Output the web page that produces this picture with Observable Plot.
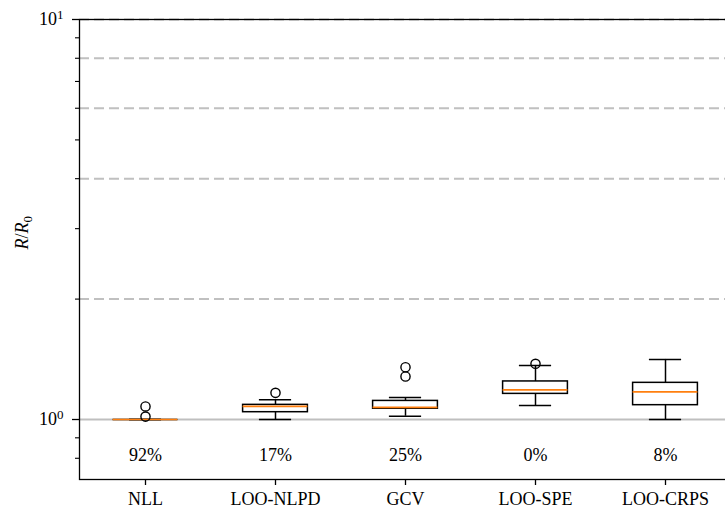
<!DOCTYPE html>
<html>
<head>
<meta charset="utf-8">
<script src="https://cdn.jsdelivr.net/npm/d3@7"></script>
<script src="https://cdn.jsdelivr.net/npm/@observablehq/plot@0.6"></script>
<style>
  html, body { margin: 0; padding: 0; background: white; overflow: hidden; }
</style>
</head>
<body>
<div id="chart"></div>
<script>
// ---- data ----
const categories = ["NLL", "LOO-NLPD", "GCV", "LOO-SPE", "LOO-CRPS"];
const whiskerLow  = [1.0,   1.0,   1.019, 1.084, 1.0];
const quartile1   = [1.0,   1.043, 1.064, 1.159, 1.086];
const medians     = [1.0,   1.079, 1.072, 1.186, 1.173];
const quartile3   = [1.0,   1.088, 1.113, 1.245, 1.235];
const whiskerHigh = [1.0,   1.120, 1.135, 1.365, 1.413];
const percentLabels = ["92%", "17%", "25%", "0%", "8%"];

const outlierCategory = ["NLL", "NLL", "LOO-NLPD", "GCV", "GCV", "LOO-SPE"];
const outlierValue    = [1.078, 1.017, 1.166,      1.351, 1.281, 1.378];

const majorTicks = [1, 10];
const minorTicks = [0.8, 0.9, 2, 3, 4, 5, 6, 7, 8, 9];
const dashedLevels = [2, 4, 6, 8, 10];
const referenceLevel = [1];

// ---- tables built from the arrays ----
const boxes = categories.map((c, i) => ({
  cat: c, lo: whiskerLow[i], q1: quartile1[i], med: medians[i],
  q3: quartile3[i], hi: whiskerHigh[i], pct: percentLabels[i]
}));
const outliers = outlierCategory.map((c, i) => ({cat: c, v: outlierValue[i]}));

const W = 725, H = 510;
const plotLeft = 79, plotTop = 19, plotBottom = 479, plotRight = 731;
const band = (plotRight - plotLeft) / categories.length;
const boxInset = band / 4;        // box width = half the band
const capInset = band * 3 / 8;    // caps = half the box width
const labelLevel = 0.815;

const chart = Plot.plot({
  width: W,
  height: H,
  marginLeft: plotLeft,
  marginRight: W - plotRight,
  marginTop: plotTop,
  marginBottom: H - plotBottom,
  style: {fontFamily: "'Liberation Serif', 'Times New Roman', serif", fontSize: "18px", color: "black", background: "white", overflow: "hidden"},
  x: {type: "band", domain: categories, range: [plotLeft, plotRight], padding: 0, align: 0.5, label: null},
  y: {type: "log", domain: [0.708, 10], range: [plotBottom, plotTop], label: null},
  marks: [
    Plot.ruleY(dashedLevels, {stroke: "#c0c0c0", strokeWidth: 2, strokeDasharray: "10,5"}),
    Plot.ruleY(referenceLevel, {stroke: "#bfbfbf", strokeWidth: 2}),
    Plot.ruleX(boxes, {x: "cat", y1: "lo", y2: "q1", stroke: "black", strokeWidth: 1.5}),
    Plot.ruleX(boxes, {x: "cat", y1: "q3", y2: "hi", stroke: "black", strokeWidth: 1.5}),
    Plot.tickY(boxes, {x: "cat", y: "lo", insetLeft: capInset, insetRight: capInset, stroke: "black", strokeWidth: 1.5}),
    Plot.tickY(boxes, {x: "cat", y: "hi", insetLeft: capInset, insetRight: capInset, stroke: "black", strokeWidth: 1.5}),
    Plot.barY(boxes, {x: "cat", y1: "q1", y2: "q3", insetLeft: boxInset, insetRight: boxInset, fill: "none", stroke: "black", strokeWidth: 1.5}),
    Plot.tickY(boxes, {x: "cat", y: "lo", insetLeft: boxInset, insetRight: boxInset, stroke: "black", strokeWidth: 1.5, filter: d => d.q1 === d.q3}),
    Plot.tickY(boxes, {x: "cat", y: "med", insetLeft: boxInset, insetRight: boxInset, stroke: "#ff7f0e", strokeWidth: 1.7}),
    Plot.dot(outliers, {x: "cat", y: "v", r: 4.6, stroke: "black", fill: "none", strokeWidth: 1.4}),
    Plot.text(boxes, {x: "cat", y: () => labelLevel, text: "pct", fill: "black"}),
    Plot.frame({stroke: "black", strokeWidth: 1.3}),
    Plot.axisY(majorTicks, {tickSize: 7, tickPadding: 9, strokeWidth: 1.3, tickFormat: d => d === 1 ? "10^0" : "10^1", label: null}),
    Plot.axisY(minorTicks, {tickSize: 4, strokeWidth: 1.1, tickFormat: () => "", label: null}),
    Plot.axisX({tickSize: 6, tickPadding: 7, strokeWidth: 1.3, label: null}),
    Plot.text([0], {frameAnchor: "left", dx: -57, rotate: -90, text: () => "R/R0", fill: "black"})
  ]
});

// superscripts / subscripts as real text
const svgNS = "http://www.w3.org/2000/svg";
chart.querySelectorAll("text").forEach(t => {
  const s = t.textContent;
  const m = s.match(/^10\^(\d)$/);
  if (m) {
    t.textContent = "10";
    const sup = document.createElementNS(svgNS, "tspan");
    sup.setAttribute("dy", "-0.45em");
    sup.setAttribute("font-size", "13px");
    sup.textContent = m[1];
    t.appendChild(sup);
  } else if (s === "R/R0") {
    t.textContent = "";
    const a = document.createElementNS(svgNS, "tspan");
    a.setAttribute("font-style", "italic"); a.textContent = "R";
    const b = document.createElementNS(svgNS, "tspan");
    b.textContent = "/";
    const c = document.createElementNS(svgNS, "tspan");
    c.setAttribute("font-style", "italic"); c.textContent = "R";
    const d = document.createElementNS(svgNS, "tspan");
    d.setAttribute("dy", "0.28em"); d.setAttribute("font-size", "13px"); d.textContent = "0";
    t.append(a, b, c, d);
  }
});

document.getElementById("chart").appendChild(chart);
</script>
</body>
</html>
